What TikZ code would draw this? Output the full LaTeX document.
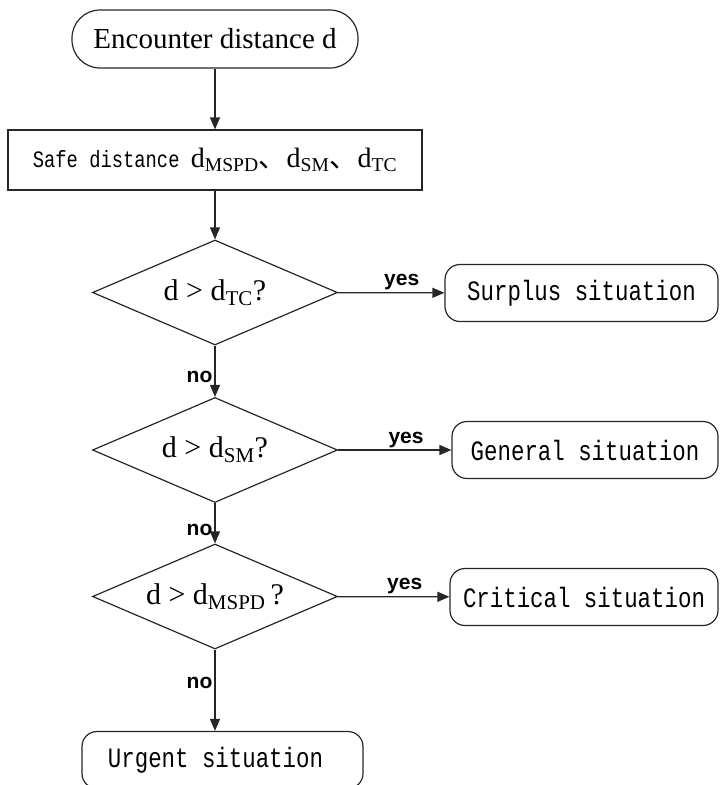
\documentclass[tikz,border=0pt]{standalone}
\usepackage{fontspec}
\usepackage{tikz}
\usetikzlibrary{shapes.geometric,arrows.meta}
\setmainfont{Liberation Serif}
\newfontfamily\flowmono[FakeStretch=0.8]{Liberation Mono}
\newfontfamily\flowsans{Liberation Sans}
\newfontfamily\cjk{Noto Sans CJK SC}
\tikzset{
  flowline/.style={draw=black!85,line width=1.2pt},
  flowarrow/.style={flowline,-{Triangle[length=12pt,width=10pt]}},
  flowstart/.style={flowline,rounded corners=28pt,minimum width=286pt,minimum height=58pt,
    font=\fontsize{29}{31}\selectfont},
  flowbox/.style={flowline,minimum width=414pt,minimum height=60pt,inner sep=0pt},
  flowtest/.style={flowline,diamond,aspect=2.35,inner sep=0pt,minimum width=245pt,
    minimum height=105pt,font=\fontsize{30}{32}\selectfont},
  flowend/.style={flowline,rounded corners=15pt,minimum height=57pt,
    font=\fontsize{28}{30}\flowmono},
  yeslabel/.style={above,pos=0.6,inner sep=2pt,font=\fontsize{21}{23}\flowsans\bfseries},
  nolabel/.style={left,inner sep=2pt,font=\fontsize{21}{23}\flowsans\bfseries}
}

\begin{document}
\begin{tikzpicture}[x=1pt,y=-1pt]
  \useasboundingbox (0,0) rectangle (720,785);
  \node[flowstart] (start) at (215,39) {Encounter distance d};
  \node[flowbox] (safe) at (215,160)
    {{\fontsize{23.5}{26}\flowmono Safe distance }\fontsize{28}{30}\selectfont
     d\textsubscript{MSPD}{\cjk 、}d\textsubscript{SM}{\cjk 、}d\textsubscript{TC}};
  \node[flowtest] (tc) at (215,292.5) {d > d\textsubscript{TC}?};
  \node[flowtest] (sm) at (215,450) {d > d\textsubscript{SM}?};
  \node[flowtest] (mspd) at (215,596.5) {d > d\textsubscript{MSPD}\,?};
  \node[flowend,minimum width=273pt] (surplus) at (581.5,293) {Surplus situation};
  \node[flowend,minimum width=266pt] (general) at (585,450) {General situation};
  \node[flowend,minimum width=268pt] (critical) at (584,597) {Critical situation};
  \node[flowend,minimum width=281pt] (urgent) at (222.5,760) {\hspace*{-14pt}Urgent situation};
  % main line
  \draw[flowarrow] (start) -- (safe);
  \draw[flowarrow] (safe) -- (tc);
  \draw[flowarrow] (tc) -- node[nolabel,pos=0.62] {no} (sm);
  \draw[flowarrow] (sm) -- node[nolabel,pos=0.67] {no} (mspd);
  \draw[flowarrow] (mspd.south) -- node[nolabel,pos=0.41] {no} (mspd.south |- urgent.north);
  % yes branches
  \draw[flowarrow] (tc) -- node[yeslabel] {yes} (surplus);
  \draw[flowarrow] (sm) -- node[yeslabel] {yes} (general);
  \draw[flowarrow] (mspd) -- node[yeslabel] {yes} (critical);
\end{tikzpicture}
\end{document}
